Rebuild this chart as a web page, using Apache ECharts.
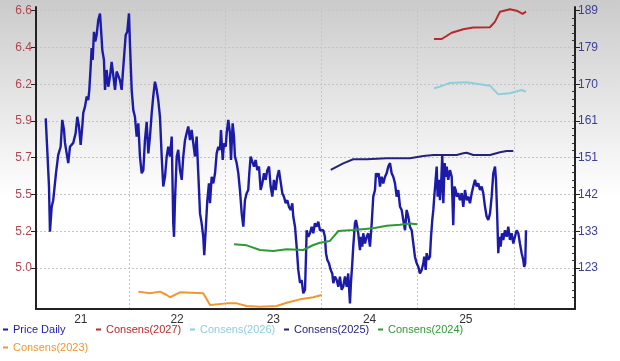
<!DOCTYPE html>
<html><head><meta charset="utf-8">
<script src="https://cdn.jsdelivr.net/npm/echarts@6/dist/echarts.min.js"></script>
<style>html,body{margin:0;padding:0;background:#fff}#c{width:620px;height:361px}</style>
</head><body><div id="c"></div>
<script>
// ---------- DATA (dates as fractional years) ----------
const priceDates = [
2021.135,2021.151,2021.169,2021.179,2021.197,2021.213,2021.242,2021.265,2021.290,2021.307,
2021.325,2021.335,2021.353,2021.369,2021.387,2021.405,2021.421,2021.446,2021.463,2021.481,
2021.498,2021.515,2021.525,2021.543,2021.561,2021.577,2021.588,2021.602,2021.612,2021.623,
2021.636,2021.650,2021.664,2021.681,2021.699,2021.709,2021.723,2021.740,2021.751,2021.768,
2021.785,2021.803,2021.820,2021.837,2021.855,2021.872,2021.889,2021.906,2021.924,2021.941,
2021.966,2021.982,2022.000,2022.010,2022.028,2022.045,2022.062,2022.080,2022.097,2022.114,
2022.132,2022.149,2022.166,2022.184,2022.201,2022.218,2022.236,2022.252,2022.270,2022.288,
2022.304,2022.322,2022.340,2022.356,2022.374,2022.392,2022.408,2022.426,2022.444,2022.460,
2022.468,2022.478,2022.496,2022.512,2022.530,2022.548,2022.564,2022.582,2022.599,2022.616,
2022.634,2022.651,2022.668,2022.686,2022.703,2022.720,2022.738,2022.755,2022.772,2022.782,
2022.797,2022.814,2022.831,2022.842,2022.859,2022.876,2022.894,2022.911,2022.928,2022.945,
2022.956,2022.974,2022.987,2023.005,2023.015,2023.032,2023.049,2023.060,2023.077,2023.091,
2023.101,2023.119,2023.136,2023.153,2023.171,2023.188,2023.205,2023.223,2023.239,2023.250,
2023.264,2023.281,2023.299,2023.316,2023.333,2023.351,2023.368,2023.385,2023.403,2023.420,
2023.437,2023.455,2023.472,2023.489,2023.506,2023.524,2023.541,2023.558,2023.576,2023.593,
2023.610,2023.628,2023.645,2023.662,2023.680,2023.697,2023.707,2023.725,2023.742,2023.759,
2023.777,2023.794,2023.811,2023.829,2023.839,2023.846,2023.863,2023.881,2023.898,2023.915,
2023.932,2023.950,2023.967,2023.984,2024.002,2024.019,2024.036,2024.047,2024.060,2024.078,
2024.096,2024.112,2024.123,2024.140,2024.158,2024.175,2024.192,2024.210,2024.226,2024.244,
2024.262,2024.278,2024.296,2024.306,2024.320,2024.330,2024.348,2024.358,2024.372,2024.382,
2024.400,2024.410,2024.424,2024.434,2024.452,2024.470,2024.486,2024.504,2024.522,2024.532,
2024.538,2024.556,2024.566,2024.580,2024.594,2024.608,2024.625,2024.642,2024.660,2024.677,
2024.694,2024.712,2024.729,2024.746,2024.764,2024.781,2024.798,2024.816,2024.833,2024.850,
2024.868,2024.885,2024.902,2024.919,2024.937,2024.954,2024.971,2024.989,2025.006,2025.023,
2025.041,2025.058,2025.068,2025.083,2025.093,2025.110,2025.127,2025.138,2025.151,2025.162,
2025.172,2025.186,2025.197,2025.207,2025.221,2025.231,2025.242,2025.255,2025.266,2025.280,
2025.290,2025.301,2025.317,2025.335,2025.353,2025.369,2025.380,2025.394,2025.405,2025.421,
2025.439,2025.457,2025.473,2025.491,2025.509,2025.525,2025.543,2025.561,2025.577,2025.595,
2025.612,2025.629,2025.647,2025.664,2025.681,2025.699,2025.716,2025.733,2025.751,2025.768,
2025.785,2025.803,2025.813,2025.826,2025.837,2025.847,2025.862,2025.875,2025.889,2025.906,
2025.924,2025.941,2025.958,2025.976,2025.993,2026.010,2026.028,2026.045,2026.062,2026.080,
2026.096,2026.106,2026.117,2026.125];
const priceValues = [
161.4,153.3,143.9,132.3,138.7,140.4,147.4,152.0,154.1,161.0,
158.4,155.1,155.4,149.9,154.1,153.8,155.1,157.6,161.8,159.3,
154.6,159.3,162.8,164.4,167.0,166.1,168.7,174.6,179.4,176.4,
183.6,181.1,182.8,186.6,188.3,184.5,178.9,176.4,168.7,173.8,
169.5,172.1,175.9,176.4,168.7,173.4,173.8,171.2,168.7,174.6,
182.8,183.6,188.3,180.6,168.7,163.5,161.8,156.7,160.1,151.6,
147.3,148.1,155.8,160.5,152.4,156.7,162.7,167.0,170.8,168.7,
166.1,161.8,151.6,143.9,146.4,151.6,154.1,151.6,156.7,134.5,
131.0,140.4,151.6,153.3,148.1,145.6,151.6,155.8,157.6,159.3,
155.8,158.4,155.0,151.6,156.7,147.3,137.0,134.5,131.0,126.3,
132.7,140.4,144.7,139.6,146.4,144.7,147.3,152.4,154.1,153.3,
158.4,150.7,155.0,154.1,157.6,161.0,157.6,150.7,160.1,156.7,
151.6,149.9,147.3,143.0,137.0,133.6,140.4,142.2,143.0,147.3,
151.6,152.0,149.0,150.7,148.1,149.0,143.0,144.7,147.3,145.6,
148.1,149.0,143.9,141.3,145.6,143.0,146.4,148.1,148.1,142.2,
141.3,139.6,140.4,138.7,137.9,139.6,136.2,133.6,128.5,122.5,
119.2,119.9,116.5,117.4,125.9,132.7,131.0,131.9,133.6,131.9,
134.5,133.6,134.9,132.7,132.7,132.7,131.0,126.8,125.1,124.2,
122.5,121.6,119.1,120.8,119.9,118.2,120.8,117.4,118.2,120.8,
118.2,121.6,113.9,119.1,124.2,128.5,134.5,135.3,133.6,131.9,
127.6,131.0,128.5,131.9,129.3,131.0,131.9,128.5,134.5,138.7,
141.3,143.0,147.3,146.4,147.3,143.9,146.4,144.7,146.4,147.3,
149.0,149.9,147.3,146.4,144.7,141.3,143.0,138.7,137.9,135.3,
132.7,137.9,136.2,133.6,132.7,129.3,125.9,124.2,123.3,121.6,
122.5,124.2,125.9,122.5,126.8,125.1,125.9,131.0,135.3,137.9,
141.3,145.6,149.0,141.3,145.6,140.4,143.9,152.0,139.6,149.9,
146.4,149.0,145.6,148.1,146.4,134.0,143.9,143.0,141.3,142.2,
140.4,142.2,138.7,143.0,140.4,141.3,139.6,142.2,143.9,145.6,
143.9,144.7,143.0,143.9,142.2,138.7,136.2,135.3,137.0,141.3,
147.3,149.0,145.6,136.2,126.8,131.0,128.5,131.9,130.2,132.7,
131.0,133.6,130.2,131.9,129.3,131.0,132.7,131.9,129.3,126.8,
125.1,123.3,124.2,132.7];

const cons2027Dates  = [2025.169,2025.249,2025.353,2025.473,2025.577,2025.751,2025.803,2025.855,2025.958,2026.028,2026.090,2026.125];
const cons2027Values = [6.424,6.424,6.463,6.485,6.495,6.497,6.532,6.594,6.609,6.600,6.580,6.594];

const cons2026Dates  = [2025.169,2025.231,2025.335,2025.509,2025.647,2025.751,2025.837,2025.958,2026.080,2026.125];
const cons2026Values = [6.118,6.128,6.151,6.155,6.143,6.134,6.080,6.087,6.107,6.097];

const cons2025Dates  = [2024.096,2024.226,2024.330,2024.470,2024.677,2024.919,2025.058,2025.162,2025.405,2025.473,2025.509,2025.577,2025.751,2025.855,2025.924,2025.993];
const cons2025Values = [5.610,5.651,5.676,5.676,5.682,5.682,5.697,5.703,5.703,5.713,5.717,5.703,5.703,5.720,5.728,5.728];

const cons2024Dates  = [2023.091,2023.223,2023.361,2023.499,2023.638,2023.811,2023.915,2023.984,2024.088,2024.175,2024.330,2024.538,2024.677,2024.816,2024.919,2024.995];
const cons2024Values = [5.147,5.141,5.112,5.106,5.116,5.112,5.143,5.157,5.168,5.230,5.236,5.247,5.263,5.269,5.276,5.272];

const cons2023Dates  = [2022.097,2022.218,2022.322,2022.392,2022.426,2022.530,2022.772,2022.842,2023.015,2023.119,2023.223,2023.361,2023.535,2023.638,2023.777,2023.915,2024.002];
const cons2023Values = [4.853,4.843,4.853,4.832,4.818,4.849,4.843,4.770,4.780,4.780,4.764,4.759,4.764,4.784,4.805,4.818,4.832];

const yearLabels = ['21','22','23','24','25'];
const leftTickLabels = ['5.0','5.2','5.5','5.7','5.9','6.2','6.4','6.6'];
const rightTickLabels = ['123','133','142','151','161','170','179','189'];
const seriesNames = ['Price Daily','Consens(2027)','Consens(2026)','Consens(2025)','Consens(2024)','Consens(2023)'];

// ---------- SCALE CONFIG ----------
const X_MIN = 2021.034, X_MAX = 2026.634;
const L_BASE = 5.0, L_STEP = 1.6/7, L_MIN = 4.745, L_MAX = 6.623;
const R_BASE = 123, R_STEP = 66/7, R_MIN = 112.48, R_MAX = 189.96;

const colors = {
  'Price Daily':'#1b1ba8',
  'Consens(2027)':'#b8282c',
  'Consens(2026)':'#8ccfdc',
  'Consens(2025)':'#23237e',
  'Consens(2024)':'#2f9a34',
  'Consens(2023)':'#f2962f'
};

const zip = (a,b)=>a.map((v,i)=>[v,b[i]]);
const leftTicks = leftTickLabels.map((_,i)=>+(L_BASE+i*L_STEP).toFixed(5));
const rightTicks = rightTickLabels.map((_,i)=>+(R_BASE+i*R_STEP).toFixed(5));
const rightMinor = [];
for (let k=-10;k<=40;k++){ const v=R_BASE+k*R_STEP/5; if(v>R_MIN+0.5 && v<R_MAX-0.2 && k%5!==0) rightMinor.push(+v.toFixed(5)); }
const yearBounds = yearLabels.map((_,i)=>2022+i);
const yearMids = yearLabels.map((_,i)=>2021.5+i);

const font = "'Liberation Sans', Arial, sans-serif";
const chart = echarts.init(document.getElementById('c'), null, {renderer:'canvas'});

const lineSeries = (name, dates, vals, yIdx, width) => ({
  name, type:'line', xAxisIndex:0, yAxisIndex:yIdx, data: zip(dates, vals),
  showSymbol:false, symbol:'none', animation:false, silent:true,
  lineStyle:{color:colors[name], width:width}, itemStyle:{color:colors[name]}
});

const legendLeft = [3,96,190,284,378,3];
const legendTop = [324,324,324,324,324,342];

chart.setOption({
  animation:false,
  backgroundColor:{type:'linear',x:0,y:0,x2:0,y2:1,colorStops:[
    {offset:0,color:'#cbcbcb'},{offset:0.55,color:'#ffffff'},{offset:1,color:'#ffffff'}]},
  textStyle:{fontFamily:font},
  grid:{left:36,right:45,top:7,bottom:52,containLabel:false},
  legend: seriesNames.map((n,i)=>({
    data:[{name:n, textStyle:{color:colors[n]}}],
    left:legendLeft[i], top:legendTop[i], icon:'rect', itemWidth:5, itemHeight:2,
    selectedMode:false, padding:0,
    textStyle:{fontSize:11, fontFamily:font}
  })),
  xAxis:[{
    type:'value', min:X_MIN, max:X_MAX,
    axisLine:{show:true, lineStyle:{color:'#222', width:2}},
    axisTick:{show:false, customValues:yearBounds},
    splitLine:{show:true, lineStyle:{color:'#c4c4c4', type:[2,2], width:1}},
    axisLabel:{customValues:yearMids, color:'#333', fontSize:12, margin:5,
      formatter:(v)=>yearLabels[Math.round(v-2021.5)]}
  }],
  yAxis:[{
    type:'value', position:'left', min:L_MIN, max:L_MAX,
    axisLine:{show:true, lineStyle:{color:'#222', width:2}},
    axisTick:{show:true, customValues:leftTicks, length:5, lineStyle:{color:'#222'}},
    splitLine:{show:true, lineStyle:{color:'#c4c4c4', type:[2,2], width:1}},
    axisLabel:{customValues:leftTicks, color:'#b04552', fontSize:12, margin:4,
      formatter:(v)=>leftTickLabels[Math.round((v-L_BASE)/L_STEP)]}
  },{
    type:'value', position:'right', min:R_MIN, max:R_MAX,
    axisLine:{show:true, lineStyle:{color:'#222', width:2}},
    axisTick:{show:true, customValues:rightTicks, length:5, lineStyle:{color:'#222'}},
    splitLine:{show:false},
    axisLabel:{customValues:rightTicks, color:'#3f3f98', fontSize:12, margin:3,
      formatter:(v)=>rightTickLabels[Math.round((v-R_BASE)/R_STEP)]}
  },{
    type:'value', position:'right', min:R_MIN, max:R_MAX,
    axisLine:{show:false},
    axisTick:{show:true, inside:true, customValues:rightMinor, length:3, lineStyle:{color:'#333'}},
    splitLine:{show:false}, axisLabel:{show:false}
  }],
  series:[
    lineSeries('Price Daily', priceDates, priceValues, 1, 2.4),
    lineSeries('Consens(2027)', cons2027Dates, cons2027Values, 0, 2),
    lineSeries('Consens(2026)', cons2026Dates, cons2026Values, 0, 2),
    lineSeries('Consens(2025)', cons2025Dates, cons2025Values, 0, 2),
    lineSeries('Consens(2024)', cons2024Dates, cons2024Values, 0, 2),
    lineSeries('Consens(2023)', cons2023Dates, cons2023Values, 0, 2)
  ]
});
</script>
</body></html>
